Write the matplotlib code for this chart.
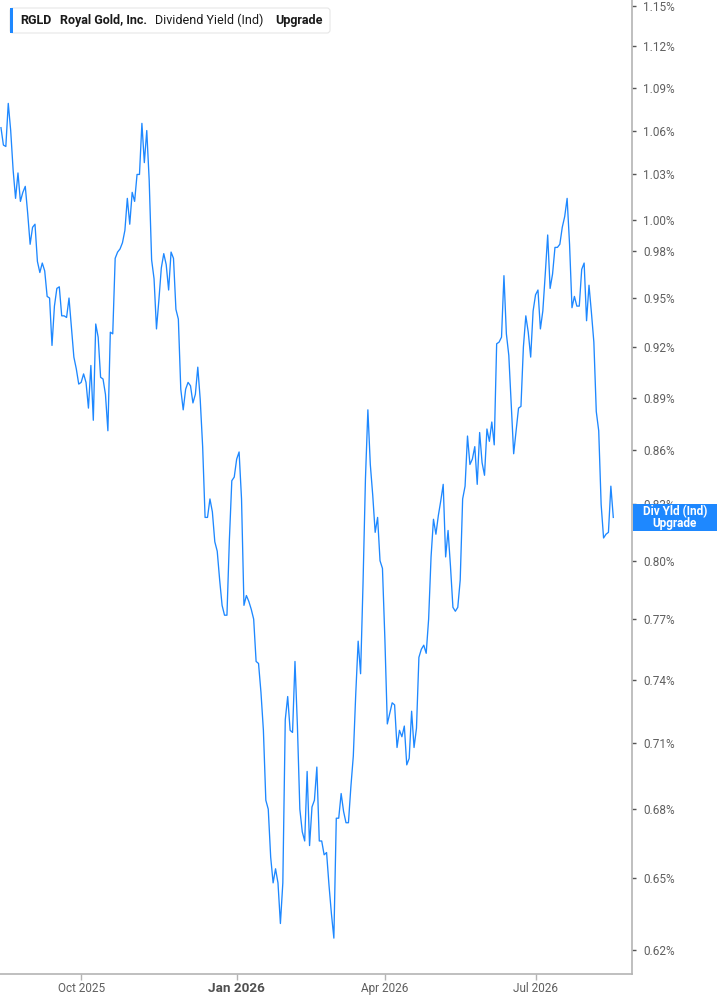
import numpy as np
import pandas as pd
import matplotlib
matplotlib.use("Agg")
import matplotlib.pyplot as plt
from matplotlib.patches import FancyBboxPatch, Rectangle
from matplotlib.ticker import FixedLocator, NullLocator, FuncFormatter

plt.rcParams['font.family'] = ['Roboto', 'DejaVu Sans']

# data
ticker = "RGLD"
company = "Royal Gold, Inc."
metric = "Dividend Yield (Ind)"
tag = "Upgrade"
start_date = "2025-08-14"
holidays = ["2025-09-01", "2025-11-27", "2025-12-25", "2026-01-01", "2026-01-19",
            "2026-02-16", "2026-04-03", "2026-05-25", "2026-06-19", "2026-07-03"]

div_yield = [
    1.062, 1.050, 1.049, 1.079, 1.060, 1.033, 1.014, 1.031, 1.012, 1.018,
    1.022, 1.004, 0.984, 0.995, 0.997, 0.973, 0.966, 0.972, 0.967, 0.951,
    0.950, 0.921, 0.945, 0.956, 0.957, 0.939, 0.939, 0.938, 0.950, 0.932,
    0.914, 0.907, 0.898, 0.899, 0.904, 0.899, 0.884, 0.909, 0.877, 0.934,
    0.926, 0.902, 0.901, 0.892, 0.871, 0.929, 0.928, 0.975, 0.979, 0.981,
    0.985, 0.993, 1.014, 0.997, 1.018, 1.012, 1.030, 1.030, 1.065, 1.038,
    1.060, 1.026, 0.974, 0.962, 0.931, 0.949, 0.969, 0.978, 0.971, 0.955,
    0.979, 0.975, 0.943, 0.937, 0.895, 0.883, 0.895, 0.899, 0.897, 0.887,
    0.892, 0.908, 0.889, 0.862, 0.823, 0.823, 0.833, 0.826, 0.810, 0.805,
    0.790, 0.777, 0.772, 0.772, 0.811, 0.843, 0.845, 0.855, 0.859, 0.833,
    0.777, 0.782, 0.779, 0.775, 0.770, 0.749, 0.748, 0.734, 0.716, 0.684,
    0.680, 0.659, 0.648, 0.654, 0.648, 0.631, 0.648, 0.721, 0.732, 0.716,
    0.715, 0.749, 0.718, 0.680, 0.670, 0.666, 0.697, 0.664, 0.681, 0.684,
    0.699, 0.666, 0.666, 0.660, 0.661, 0.647, 0.635, 0.625, 0.676, 0.676,
    0.687, 0.679, 0.674, 0.674, 0.690, 0.704, 0.733, 0.759, 0.743, 0.788,
    0.844, 0.883, 0.852, 0.835, 0.815, 0.823, 0.800, 0.796, 0.760, 0.719,
    0.724, 0.729, 0.728, 0.708, 0.716, 0.713, 0.718, 0.700, 0.703, 0.725,
    0.708, 0.717, 0.751, 0.755, 0.757, 0.753, 0.770, 0.802, 0.822, 0.814,
    0.824, 0.832, 0.841, 0.802, 0.816, 0.797, 0.776, 0.774, 0.776, 0.790,
    0.833, 0.840, 0.868, 0.852, 0.855, 0.862, 0.841, 0.870, 0.853, 0.846,
    0.872, 0.865, 0.876, 0.863, 0.922, 0.923, 0.926, 0.964, 0.928, 0.915,
    0.886, 0.858, 0.871, 0.884, 0.885, 0.920, 0.939, 0.929, 0.914, 0.942,
    0.952, 0.955, 0.931, 0.942, 0.965, 0.990, 0.956, 0.965, 0.982, 0.982,
    0.984, 0.995, 1.002, 1.014, 0.984, 0.944, 0.951, 0.945, 0.945, 0.968,
    0.972, 0.936, 0.958, 0.941, 0.923, 0.882, 0.871, 0.830, 0.812, 0.814,
    0.815, 0.840, 0.823,
]

y_ticks = [0.62, 0.65, 0.68, 0.71, 0.74, 0.77, 0.80, 0.83, 0.86, 0.89,
           0.92, 0.95, 0.98, 1.00, 1.03, 1.06, 1.09, 1.12, 1.15]
x_tick_months = ["2025-10-01", "2026-01-01", "2026-04-01", "2026-07-01"]
x_tick_labels = ["Oct 2025", "Jan 2026", "Apr 2026", "Jul 2026"]

W, H = 717, 1005
blue = "#1e88ff"
grey = "#b4b4b4"
txt = "#5f5f5f"

fig = plt.figure(figsize=(W / 100, H / 100), dpi=100)
ax = fig.add_axes([0, 31 / H, 632 / W, 974 / H])

dates = pd.bdate_range(start_date, periods=len(div_yield), freq="C", holidays=holidays)
x = np.arange(len(div_yield))
ax.plot(x, div_yield, color=blue, lw=0.95)

ax.set_yscale("log")
ax.set_ylim(0.6105, 1.1545)
ax.set_xlim(-0.4, 259.7)

ax.yaxis.set_major_locator(FixedLocator(y_ticks))
ax.yaxis.set_minor_locator(NullLocator())
ax.yaxis.set_major_formatter(FuncFormatter(lambda v, p: "%.2f%%" % v))
ax.yaxis.tick_right()
ax.tick_params(axis="y", length=3, width=1, color="#555555", pad=5,
               labelsize=8.5, labelcolor=txt)

tick_idx = [int(np.searchsorted(dates, pd.Timestamp(m))) for m in x_tick_months]
ax.set_xticks(tick_idx)
ax.set_xticklabels(x_tick_labels)
ax.tick_params(axis="x", length=4, width=1, color=grey, pad=2,
               labelsize=8.5, labelcolor=txt)
for lab in ax.get_xticklabels():
    if lab.get_text().startswith("Jan"):
        lab.set_fontweight("bold")
        lab.set_fontsize(9.7)
        lab.set_color("#505050")

for s in ["top", "left"]:
    ax.spines[s].set_visible(False)
for s in ["right", "bottom"]:
    ax.spines[s].set_color(grey)
    ax.spines[s].set_linewidth(1.2)

# legend box at top left
leg = FancyBboxPatch((10, H - 33), 320, 25, boxstyle="round,pad=0,rounding_size=3",
                     transform=None, facecolor="white", edgecolor="#e6e6e6", lw=0.8, zorder=5)
fig.patches.append(leg)
fig.patches.append(Rectangle((10, H - 33), 3, 25, transform=None, facecolor=blue,
                             edgecolor="none", zorder=6))
ly = 1 - 20.5 / H
fig.text(20.5 / W, ly, ticker, fontsize=9, fontweight="bold", color="#1a1a1a", va="center", zorder=7)
fig.text(60.5 / W, ly, company, fontsize=9, fontweight="bold", color="#1a1a1a", va="center", zorder=7)
fig.text(155 / W, ly, metric, fontsize=9, color="#1a1a1a", va="center", zorder=7)
fig.text(275 / W, ly, tag, fontsize=9, fontweight="bold", color="#1a1a1a", va="center", zorder=7)

# last value label on the right axis
fig.canvas.draw()
yl = ax.transData.transform((0, div_yield[-1]))[1]
fig.patches.append(Rectangle((633, yl - 13.5), W - 633, 27, transform=None,
                             facecolor=blue, edgecolor="none", zorder=8))
fig.text(675 / W, (yl + 6) / H, "Div Yld (Ind)", fontsize=8.5, fontweight="bold",
         color="white", ha="center", va="center", zorder=9)
fig.text(675 / W, (yl - 6) / H, tag, fontsize=8.5, fontweight="bold",
         color="white", ha="center", va="center", zorder=9)

fig.savefig("out.png", dpi=100)
